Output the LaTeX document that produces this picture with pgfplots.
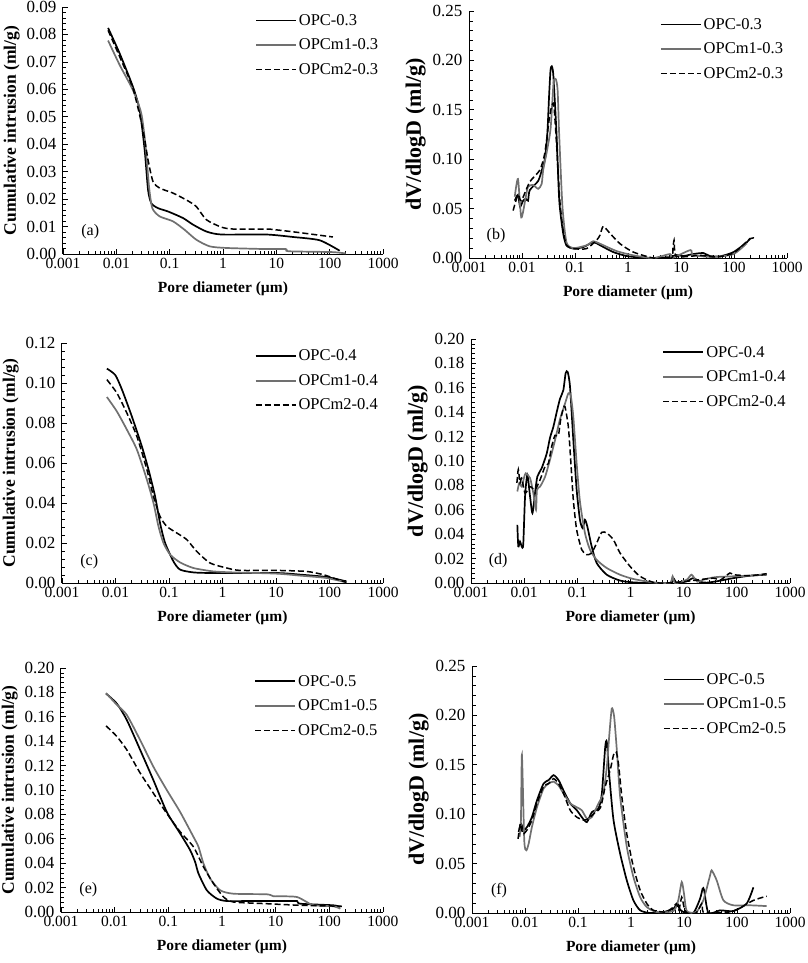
\documentclass[border=0pt]{standalone}
\usepackage{fontspec}
\setmainfont{Liberation Serif}
\usepackage{pgfplots}
\pgfplotsset{compat=1.18}
\definecolor{mgray}{RGB}{112,112,112}
\pgfplotsset{
    legend image code/.code={\draw[#1] (0pt,0pt) -- (40pt,0pt);},
    scale only axis,
    xmin=0.001, xmax=1000,
    xtick={0.001,0.01,0.1,1,10,100,1000},
    xticklabels={0.001,0.01,0.1,1,10,100,1000},
    minor xtick={0.002,0.003,0.004,0.005,0.006,0.007,0.008,0.009,0.02,0.03,0.04,0.05,0.06,0.07,0.08,0.09,0.2,0.3,0.4,0.5,0.6,0.7,0.8,0.9,2,3,4,5,6,7,8,9,20,30,40,50,60,70,80,90,200,300,400,500,600,700,800,900},
    axis x line*=bottom, axis y line*=left,
    axis line style={-, line width=1pt},
    tick align=inside,
    major tick length=5pt, minor tick length=3.5pt,
    tick style={black, line width=0.7pt},
    ymin=0, minor y tick num=4,
    scaled y ticks=false,
    x tick label style={font=\fontsize{15.5}{18}\selectfont, yshift=-1pt},
    y tick label style={font=\fontsize{17}{20}\selectfont, xshift=-3pt},
    yticklabel={\pgfmathprintnumber[fixed, fixed zerofill, precision=2, assume math mode=true]{\tick}},
    xlabel={Pore diameter (µm)},
    xlabel style={font=\bfseries\fontsize{15.5}{18}\selectfont, yshift=-6pt},
    legend style={draw=none, fill=none, at={(0.6,0.98)}, anchor=north west, font=\fontsize{16.5}{19}\selectfont, row sep=8pt, inner sep=0pt},
    legend cell align=left,
}
\pgfplotsset{
  cumlab/.style={ylabel={Cumulative intrusion (ml/g)}, ylabel style={font=\bfseries\fontsize{17.5}{20}\selectfont}},
  dvlab/.style={ylabel={dV/dlogD (ml/g)}, ylabel style={font=\bfseries\fontsize{22}{24}\selectfont}},
  s1/.style={black, line width=1.7pt, smooth, tension=0.4},
  s2/.style={mgray, line width=1.7pt, smooth, tension=0.4},
  s3/.style={black, line width=1.5pt, dash pattern=on 6pt off 3pt, smooth, tension=0.4},
}
\newcommand{\plab}[1]{\node[font=\fontsize{16}{18}\selectfont] at (rel axis cs:0.085,0.09) {#1};}
\begin{document}
\begin{tikzpicture}
\useasboundingbox (0pt,0pt) rectangle (807pt,-963pt);
% (a)
\begin{semilogxaxis}[cumlab, at={(63pt,-254pt)}, anchor=south west, width=320pt, height=247pt, ymax=0.09, ytick distance=0.01]
\addplot[s1] coordinates {(0.0070,0.0824) (0.0116,0.073) (0.0205,0.0609) (0.0274,0.0524) (0.034,0.0379) (0.0393,0.0234) (0.0453,0.0185) (0.0604,0.0167) (0.093,0.0155) (0.178,0.0131) (0.274,0.0107) (0.487,0.0082) (0.93,0.0071) (6.5,0.0071) (20.5,0.0062) (65,0.005) (154,0.0012)};
\addplot[s2] coordinates {(0.0070,0.0778) (0.0116,0.0688) (0.0205,0.0597) (0.0294,0.0512) (0.0355,0.039) (0.041,0.0246) (0.0473,0.0167) (0.065,0.0137) (0.1155,0.0119) (0.191,0.0088) (0.316,0.0052) (0.562,0.0028) (1.15,0.0022) (6.5,0.0018) (15,0.0018) (17,0.001) (110,0.0007) (200,0.0002)};
\addplot[s3] coordinates {(0.0070,0.0815) (0.0116,0.0718) (0.0205,0.0603) (0.0316,0.0452) (0.0393,0.0343) (0.0487,0.0264) (0.065,0.024) (0.1155,0.0222) (0.205,0.0197) (0.316,0.0173) (0.487,0.0125) (0.93,0.0098) (1.54,0.0091) (6.5,0.0091) (10,0.0088) (27,0.0078) (115,0.0062)};
\legend{OPC-0.3,OPCm1-0.3,OPCm2-0.3}
\plab{(a)}
\end{semilogxaxis}
% (b)
\begin{semilogxaxis}[dvlab, at={(469pt,-258pt)}, anchor=south west, width=318pt, height=247pt, ymax=0.25, ytick distance=0.05]
\addplot[s1] coordinates {(0.0073,0.058) (0.0084,0.064) (0.0092,0.052) (0.0105,0.058) (0.0118,0.060) (0.013,0.058) (0.014,0.0686) (0.0202,0.078) (0.024,0.09) (0.027,0.1) (0.030,0.125) (0.0325,0.165) (0.0345,0.19) (0.0365,0.194) (0.039,0.185) (0.0448,0.126) (0.0505,0.058) (0.0598,0.025) (0.069,0.0128) (0.0924,0.0095) (0.143,0.011) (0.221,0.016) (0.295,0.013) (0.527,0.006) (1.01,0.0017) (2.6,0) (6.2,0.001) (8.3,0.003) (11.1,0.002) (17,0.004) (26.5,0.005) (35,0.002) (55,0.0017) (98,0.006) (175,0.016) (202,0.02)};
\addplot[s2] coordinates {(0.0073,0.062) (0.0084,0.080) (0.0097,0.041) (0.0118,0.062) (0.013,0.072) (0.016,0.074) (0.0202,0.070) (0.0235,0.075) (0.0251,0.089) (0.029,0.106) (0.0345,0.13) (0.038,0.165) (0.0398,0.18) (0.0435,0.181) (0.047,0.17) (0.0502,0.126) (0.058,0.052) (0.069,0.016) (0.0924,0.010) (0.165,0.0128) (0.221,0.017) (0.295,0.0145) (0.61,0.007) (1.26,0.0027) (3.0,0) (6.2,0.004) (6.8,0) (15,0.008) (17,0.003) (41,0.001) (98,0.004) (175,0.015)};
\addplot[s3] coordinates {(0.0068,0.048) (0.0084,0.064) (0.0097,0.058) (0.014,0.077) (0.0217,0.089) (0.0269,0.106) (0.0325,0.14) (0.036,0.153) (0.0398,0.155) (0.0448,0.116) (0.0517,0.058) (0.0598,0.028) (0.069,0.013) (0.0924,0.0095) (0.165,0.0095) (0.255,0.018) (0.295,0.023) (0.341,0.032) (0.456,0.025) (0.705,0.0145) (1.26,0.006) (3.0,0) (6.7,0) (7.0,0.008) (7.4,0.018) (8.0,0.002) (14.8,0.0017) (22.9,0.0027) (47,0.001) (98,0.005) (202,0.0196) (251,0.02)};
\legend{OPC-0.3,OPCm1-0.3,OPCm2-0.3}
\plab{(b)}
\end{semilogxaxis}
% (c)
\begin{semilogxaxis}[cumlab, at={(62pt,-583pt)}, anchor=south west, width=321pt, height=240pt, ymax=0.12, ytick distance=0.02]
\addplot[s1] coordinates {(0.0069,0.1072) (0.0099,0.104) (0.0132,0.0967) (0.0202,0.0833) (0.0311,0.0683) (0.0414,0.0567) (0.055,0.0433) (0.068,0.030) (0.0847,0.020) (0.121,0.0108) (0.161,0.0067) (0.286,0.0053) (0.675,0.005) (10.2,0.005) (28,0.0042) (88,0.003) (207,0.0008)};
\addplot[s2] coordinates {(0.0069,0.093) (0.0106,0.0858) (0.0163,0.0767) (0.0251,0.0667) (0.0386,0.0517) (0.0513,0.040) (0.0636,0.0283) (0.0788,0.020) (0.105,0.0142) (0.161,0.0103) (0.286,0.0075) (0.675,0.0058) (1.6,0.0053) (10,0.0047) (28,0.0037) (88,0.0025) (207,0.0003)};
\addplot[s3] coordinates {(0.0069,0.1017) (0.0106,0.095) (0.0163,0.085) (0.0251,0.0733) (0.0386,0.0567) (0.0513,0.0433) (0.068,0.0333) (0.091,0.0283) (0.14,0.025) (0.215,0.0217) (0.33,0.0158) (0.585,0.010) (1.2,0.0075) (2.12,0.0063) (10,0.0063) (37,0.0058) (76,0.0042) (117,0.0025) (207,0.0003)};
\legend{OPC-0.4,OPCm1-0.4,OPCm2-0.4}
\plab{(c)}
\end{semilogxaxis}
% (d)
\begin{semilogxaxis}[dvlab, at={(471pt,-583pt)}, anchor=south west, width=319pt, height=244pt, ymax=0.20, ytick distance=0.02]
\addplot[s1] coordinates {(0.00744,0.0477) (0.00776,0.030) (0.00835,0.034) (0.00898,0.030) (0.0096,0.0314) (0.0104,0.071) (0.0115,0.0887) (0.0129,0.071) (0.0143,0.0573) (0.016,0.0737) (0.0177,0.0873) (0.0213,0.094) (0.0265,0.106) (0.0306,0.119) (0.0354,0.128) (0.0409,0.14) (0.0472,0.151) (0.0545,0.158) (0.0603,0.172) (0.0658,0.173) (0.0728,0.161) (0.0841,0.117) (0.0971,0.0764) (0.112,0.0518) (0.126,0.045) (0.139,0.0518) (0.154,0.0464) (0.186,0.030) (0.231,0.0164) (0.357,0.0068) (0.635,0.002) (1.13,0.0005) (2.69,0) (5.5,0) (6.4,0.004) (7.4,0) (11.4,0.0014) (15.2,0.004) (20.3,0.001) (27,0.0003) (41.7,0.0014) (86,0.004) (177,0.006) (364,0.0068)};
\addplot[s2] coordinates {(0.00744,0.075) (0.0081,0.082) (0.0090,0.079) (0.0099,0.086) (0.0107,0.09) (0.0129,0.086) (0.01486,0.0737) (0.0167,0.06) (0.0174,0.0764) (0.0199,0.079) (0.0247,0.087) (0.0306,0.101) (0.038,0.117) (0.047,0.134) (0.0586,0.147) (0.0678,0.1555) (0.075,0.154) (0.0841,0.136) (0.0971,0.098) (0.112,0.0668) (0.139,0.041) (0.173,0.0273) (0.231,0.019) (0.357,0.0123) (0.635,0.0068) (1.13,0.0033) (2.69,0.0005) (5.5,0) (6.2,0.0055) (6.9,0) (11.4,0.0027) (14.1,0.0068) (18,0.001) (23.4,0.0027) (41.7,0.0049) (177,0.006) (364,0.0074)};
\addplot[s3] coordinates {(0.0073,0.082) (0.00776,0.093) (0.00835,0.082) (0.00898,0.086) (0.0104,0.0737) (0.0129,0.079) (0.0160,0.0764) (0.0199,0.0846) (0.0247,0.0955) (0.0285,0.098) (0.033,0.112) (0.038,0.121) (0.044,0.121) (0.0486,0.134) (0.0545,0.143) (0.0586,0.1446) (0.0678,0.128) (0.075,0.101) (0.0841,0.068) (0.0971,0.0437) (0.121,0.0273) (0.15,0.0232) (0.186,0.0246) (0.231,0.0327) (0.287,0.0415) (0.357,0.041) (0.476,0.0355) (0.635,0.0246) (0.98,0.0136) (1.51,0.0055) (2.69,0.0005) (4.8,0) (11.4,0.0014) (36,0.004) (48,0.0022) (74,0.0082) (86,0.0068) (177,0.006) (364,0.0076)};
\legend{OPC-0.4,OPCm1-0.4,OPCm2-0.4}
\plab{(d)}
\end{semilogxaxis}
% (e)
\begin{semilogxaxis}[cumlab, at={(61pt,-912pt)}, anchor=south west, width=322pt, height=244pt, ymax=0.20, ytick distance=0.02]
\addplot[s1] coordinates {(0.0069,0.179) (0.0109,0.171) (0.0168,0.1575) (0.0298,0.133) (0.0528,0.108) (0.0936,0.082) (0.166,0.0644) (0.255,0.0507) (0.316,0.041) (0.365,0.0315) (0.522,0.0178) (0.8,0.011) (1.23,0.009) (3.36,0.009) (14,0.009) (25,0.009) (28.8,0.0068) (120,0.0055) (160,0.004)};
\addplot[s2] coordinates {(0.0069,0.1795) (0.0109,0.17) (0.0168,0.1616) (0.0298,0.141) (0.0528,0.119) (0.0936,0.10) (0.166,0.082) (0.294,0.0616) (0.365,0.0534) (0.452,0.0397) (0.603,0.0274) (0.925,0.0178) (1.64,0.015) (6.9,0.0145) (9.1,0.0129) (14,0.0129) (25,0.0123) (38,0.0082) (51,0.0055) (120,0.0047) (160,0.0027)};
\addplot[s3] coordinates {(0.0069,0.1526) (0.0109,0.144) (0.0168,0.133) (0.0298,0.114) (0.0528,0.0973) (0.0936,0.0808) (0.166,0.0658) (0.294,0.0534) (0.452,0.037) (0.695,0.0233) (1.07,0.0123) (1.64,0.0082) (6.9,0.0068) (28.8,0.0055) (120,0.0049) (172,0.0047)};
\legend{OPC-0.5,OPCm1-0.5,OPCm2-0.5}
\plab{(e)}
\end{semilogxaxis}
% (f)
\begin{semilogxaxis}[dvlab, at={(472pt,-913pt)}, anchor=south west, width=318pt, height=247pt, ymax=0.25, ytick distance=0.05]
\addplot[s1] coordinates {(0.0076,0.082) (0.0084,0.0905) (0.0094,0.084) (0.0109,0.087) (0.0135,0.097) (0.0168,0.114) (0.0224,0.131) (0.0279,0.1345) (0.0346,0.1395) (0.043,0.1345) (0.0533,0.124) (0.0713,0.111) (0.0952,0.104) (0.118,0.097) (0.147,0.092) (0.182,0.102) (0.244,0.106) (0.282,0.121) (0.326,0.168) (0.35,0.173) (0.387,0.141) (0.468,0.094) (0.624,0.060) (0.833,0.033) (1.11,0.0128) (1.49,0.0027) (2.29,0) (4.1,0.001) (6.3,0.0044) (7.5,0.0095) (8.3,0.004) (9.75,0.001) (15,0) (20.1,0.0145) (22.5,0.0247) (24,0.023) (28.9,0) (47.8,0.0027) (85,0.002) (152,0.0095) (204,0.026)};
\addplot[s2] coordinates {(0.0079,0.077) (0.00838,0.094) (0.00875,0.16) (0.00968,0.0736) (0.01057,0.0635) (0.0117,0.07) (0.0135,0.087) (0.0168,0.107) (0.0224,0.126) (0.0279,0.131) (0.0346,0.133) (0.043,0.129) (0.0533,0.121) (0.0713,0.111) (0.0952,0.107) (0.118,0.104) (0.147,0.0956) (0.182,0.097) (0.244,0.111) (0.30,0.121) (0.35,0.148) (0.392,0.182) (0.434,0.207) (0.48,0.199) (0.54,0.165) (0.624,0.1176) (0.833,0.067) (1.11,0.0365) (1.49,0.016) (1.99,0.006) (3.06,0.001) (6.3,0.002) (7.8,0.013) (9.06,0.0314) (10,0.0196) (11.3,0.002) (17,0.001) (23.2,0.013) (31,0.038) (33.3,0.0432) (41.4,0.033) (55.2,0.013) (85,0.0078) (176,0.0078) (363,0.007)};
\addplot[s3] coordinates {(0.0074,0.075) (0.0082,0.0905) (0.0091,0.080) (0.0109,0.084) (0.0135,0.094) (0.0168,0.111) (0.0224,0.128) (0.0279,0.131) (0.0346,0.136) (0.043,0.131) (0.0533,0.121) (0.0713,0.104) (0.0952,0.097) (0.13,0.094) (0.16,0.0956) (0.2,0.1007) (0.267,0.107) (0.326,0.128) (0.405,0.1446) (0.468,0.16) (0.525,0.163) (0.58,0.151) (0.672,0.1176) (0.833,0.080) (1.11,0.0466) (1.49,0.023) (1.99,0.0095) (2.65,0.0027) (4.5,0.001) (6.3,0.006) (7.2,0.0095) (8.0,0.003) (9.06,0.016) (10,0.006) (11.3,0) (17,0) (21.6,0.0095) (23,0.001) (35,0) (85,0.002) (204,0.0128) (363,0.017)};
\legend{OPC-0.5,OPCm1-0.5,OPCm2-0.5}
\plab{(f)}
\end{semilogxaxis}
\end{tikzpicture}
\end{document}
